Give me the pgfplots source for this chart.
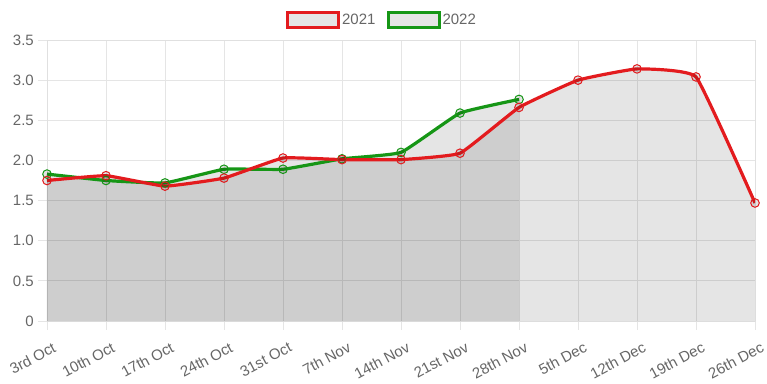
\documentclass[border=0pt]{standalone}
\usepackage{pgfplots}
\pgfplotsset{compat=1.18}
\usepackage{fontspec}
\setmainfont{Liberation Sans}
\definecolor{cred}{RGB}{227,27,30}
\definecolor{cgreen}{RGB}{22,150,22}
\definecolor{tickgrey}{RGB}{102,102,102}
\begin{document}
\begin{tikzpicture}
\begin{axis}[
  width=708pt, height=281pt, scale only axis,
  xmin=0, xmax=12, ymin=0, ymax=3.5,
  xtick={0,...,12},
  xticklabels={3rd Oct,10th Oct,17th Oct,24th Oct,31st Oct,7th Nov,14th Nov,21st Nov,28th Nov,5th Dec,12th Dec,19th Dec,26th Dec},
  ytick={0,0.5,1,1.5,2,2.5,3,3.5},
  yticklabels={0,0.5,1.0,1.5,2.0,2.5,3.0,3.5},
  grid=major,
  major grid style={color=black!10, line width=0.8pt},
  axis line style={color=black!12, line width=0.8pt},
  tick style={color=black!10, line width=0.8pt},
  tick align=outside, major tick length=9pt,
  xtick pos=bottom, ytick pos=left,
  ticklabel style={font=\fontsize{15}{17}\selectfont, text=tickgrey},
  xticklabel style={rotate=28, anchor=east, inner sep=1pt, yshift=-18pt, xshift=0pt},
  yticklabel style={inner sep=4pt},
  legend style={at={(0.5,1)}, anchor=center, xshift=-19pt, yshift=20pt, draw=none,
    font=\fontsize{15}{17}\selectfont, text=tickgrey, fill=none,
    /tikz/every even column/.append style={column sep=9pt}},
  legend columns=2, reverse legend,
  legend image code/.code={\draw[line width=3pt, fill=black!10, opacity=1] (0pt,-7.5pt) rectangle (51pt,7.5pt);},
]
% fills
\addplot[draw=none, fill=black, fill opacity=0.1, smooth, tension=0.2, forget plot]
  coordinates {(0,1.83)(1,1.75)(2,1.72)(3,1.89)(4,1.89)(5,2.02)(6,2.10)(7,2.59)(8,2.76)} \closedcycle;
\addplot[draw=none, fill=black, fill opacity=0.1, smooth, tension=0.2, forget plot]
  coordinates {(0,1.75)(1,1.81)(2,1.68)(3,1.78)(4,2.03)(5,2.01)(6,2.01)(7,2.09)(8,2.66)(9,3.00)(10,3.14)(11,3.04)(12,1.47)} \closedcycle;
% lines
\addplot[color=cgreen, line width=3.2pt, smooth, tension=0.2, mark=*, mark size=4.3pt,
  mark options={line width=1pt, fill=black, fill opacity=0.1, draw opacity=1}]
  coordinates {(0,1.83)(1,1.75)(2,1.72)(3,1.89)(4,1.89)(5,2.02)(6,2.10)(7,2.59)(8,2.76)};
\addlegendentry{2022}
\addplot[color=cred, line width=3.2pt, smooth, tension=0.2, mark=*, mark size=4.3pt,
  mark options={line width=1pt, fill=black, fill opacity=0.1, draw opacity=1}]
  coordinates {(0,1.75)(1,1.81)(2,1.68)(3,1.78)(4,2.03)(5,2.01)(6,2.01)(7,2.09)(8,2.66)(9,3.00)(10,3.14)(11,3.04)(12,1.47)};
\addlegendentry{2021}
\end{axis}
\pgfresetboundingbox
\path ([shift={(-47pt,-62pt)}]current axis.south west) rectangle ([shift={(12pt,40pt)}]current axis.north east);
\end{tikzpicture}
\end{document}
